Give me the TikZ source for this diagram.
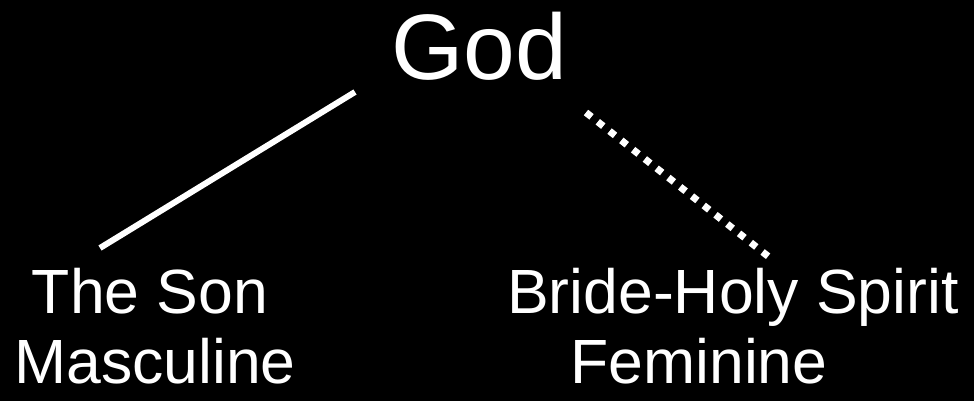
\documentclass[tikz,border=0pt]{standalone}
\usepackage{fontspec}
\setmainfont{Liberation Sans}
\usepackage{xcolor}
\usetikzlibrary{positioning}

\begin{document}
\begin{tikzpicture}[
    x=1pt, y=-1pt,
    label/.style={text=white, inner sep=0pt, anchor=base},
    bigtext/.style={label, font=\fontsize{93}{93}\selectfont},
    midtext/.style={label, font=\fontsize{62.5}{62.5}\selectfont},
    solidline/.style={draw=white, line width=6pt},
    dotline/.style={draw=white, line width=7pt, dash pattern=on 7pt off 8pt}
]
\fill[black] (0,0) rectangle (974,401);
\useasboundingbox (0,0) rectangle (974,401);

\node[bigtext] (god) at (479,80) {God};
\node[midtext] (son) at (150,313) {The Son};
\node[midtext] (masc) at (155,383) {Masculine};
\node[midtext] (bride) at (733,313) {Bride-Holy Spirit};
\node[midtext] (fem) at (699,383) {Feminine};

% line ends
\coordinate (godleft) at (355,92);
\coordinate (sontop) at (100,248);
\coordinate (godright) at (586,112.5);
\coordinate (bridetop) at (769,257);

\draw[solidline] (godleft) -- (sontop);
\draw[dotline] (godright) -- (bridetop);
\end{tikzpicture}
\end{document}
